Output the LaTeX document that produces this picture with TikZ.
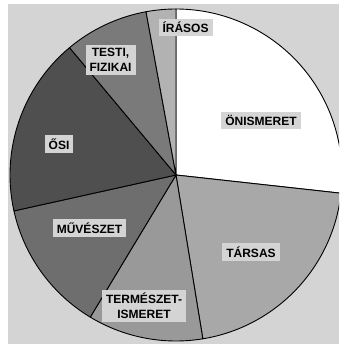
\documentclass[tikz,border=0pt]{standalone}
\usepackage{fontspec}
\setmainfont{Liberation Sans}
\begin{document}
\begin{tikzpicture}[x=1pt,y=1pt,
  slice/.style={draw=black,line width=0.9pt,line join=round},
  lbl/.style={fill=bggray,inner xsep=4pt,inner ysep=3.5pt,font=\fontsize{12}{15}\selectfont\bfseries,align=center,text=black}]
\definecolor{bggray}{HTML}{D4D4D4}
\useasboundingbox (0,0) rectangle (339,344);
\fill[white] (0,0) rectangle (339,344);
\fill[bggray] (8,0) rectangle (339,340);
\coordinate (c) at (176,169);
\def\R{166}
\begin{scope}
\clip (8,0) rectangle (339,340);
\filldraw[slice,fill=white] (c) -- ++(90:\R) arc[start angle=90,end angle=-6.3,radius=\R] -- cycle;
\filldraw[slice,fill=black!34] (c) -- ++(-6.3:\R) arc[start angle=-6.3,end angle=-80.7,radius=\R] -- cycle;
\filldraw[slice,fill=black!40] (c) -- ++(-80.7:\R) arc[start angle=-80.7,end angle=-121.1,radius=\R] -- cycle;
\filldraw[slice,fill=black!57] (c) -- ++(238.9:\R) arc[start angle=238.9,end angle=192.5,radius=\R] -- cycle;
\filldraw[slice,fill=black!69] (c) -- ++(192.5:\R) arc[start angle=192.5,end angle=129.9,radius=\R] -- cycle;
\filldraw[slice,fill=black!52] (c) -- ++(129.9:\R) arc[start angle=129.9,end angle=100.4,radius=\R] -- cycle;
\filldraw[slice,fill=black!30] (c) -- ++(100.4:\R) arc[start angle=100.4,end angle=90,radius=\R] -- cycle;
\end{scope}
\node[lbl] (irasos) at (185.5,316.5) {ÍRÁSOS};
\node[lbl] (testi) at (110.5,284) {TESTI,\\FIZIKAI};
\node[lbl] (onismeret) at (261,223.5) {ÖNISMERET};
\node[lbl] (osi) at (59,200) {ŐSI};
\node[lbl] (muveszet) at (89.5,116) {MŰVÉSZET};
\node[lbl] (tarsas) at (251,92) {TÁRSAS};
\node[lbl] (termeszet) at (144,38) {TERMÉSZET-\\ISMERET};
\end{tikzpicture}
\end{document}
